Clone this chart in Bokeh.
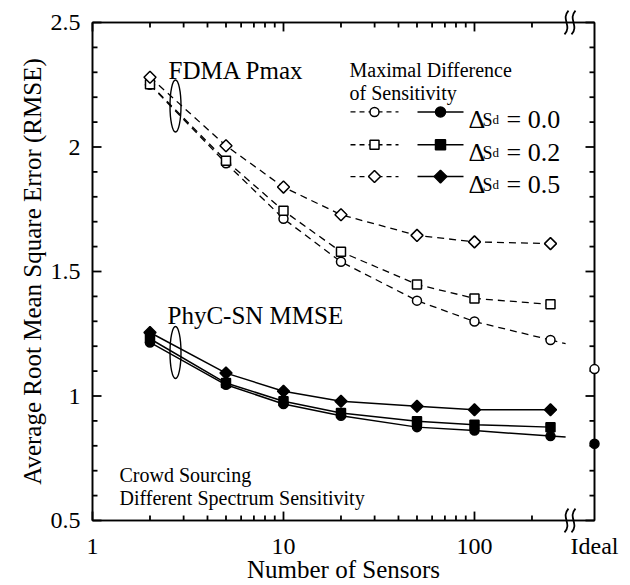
import numpy as np
from bokeh.plotting import figure
from bokeh.models import FixedTicker, LogAxis, LinearAxis, CustomJSTickFormatter, Range1d
from bokeh.core.properties import value
from bokeh.embed import file_html
from bokeh.resources import INLINE

# ---------------- data ----------------
sensors = [2, 5, 10, 20, 50, 100, 250]
fdma_00 = [2.250, 1.935, 1.712, 1.539, 1.383, 1.299, 1.225]
fdma_02 = [2.252, 1.945, 1.744, 1.579, 1.448, 1.392, 1.368]
fdma_05 = [2.280, 2.005, 1.839, 1.728, 1.645, 1.619, 1.612]
phyc_00 = [1.215, 1.045, 0.968, 0.921, 0.875, 0.861, 0.839]
phyc_02 = [1.230, 1.052, 0.979, 0.932, 0.899, 0.885, 0.875]
phyc_05 = [1.255, 1.092, 1.019, 0.979, 0.959, 0.945, 0.945]
tail_x = [250, 300]
fdma_00_tail = [1.225, 1.210]
phyc_00_tail = [0.839, 0.835]
ideal_x = [425]
ideal_fdma = [1.108]
ideal_phyc = [0.808]
delta_labels = ["= 0.0", "= 0.2", "= 0.5"]
x_ticks = [1, 10, 100, 425]
x_minor = [2, 3, 4, 5, 6, 7, 8, 9, 20, 30, 40, 50, 60, 70, 80, 90, 200]
y_ticks = [0.5, 1.0, 1.5, 2.0, 2.5]
y_minor = [0.6, 0.7, 0.8, 0.9, 1.1, 1.2, 1.3, 1.4, 1.6, 1.7, 1.8, 1.9, 2.1, 2.2, 2.3, 2.4]

# ---------------- layout helpers ----------------
X0, X1, Y0, Y1 = 1, 425, 0.5, 2.5
L, R, T, B = 92, 594, 22, 523
FONT = value("Liberation Serif")


def dx(px):
    return 10 ** (np.log10(X0) + (px - L) / (R - L) * (np.log10(X1) - np.log10(X0)))


def dy(py):
    return Y0 + (B - py) / (B - T) * (Y1 - Y0)


p = figure(width=630, height=585, x_axis_type="log",
           x_range=Range1d(X0, X1), y_range=Range1d(Y0, Y1),
           output_backend="svg", toolbar_location=None,
           min_border_left=L, min_border_right=630 - R,
           min_border_top=T, min_border_bottom=585 - B)
p.grid.visible = False
p.outline_line_color = "black"
p.outline_line_width = 1.5

xt = FixedTicker(ticks=x_ticks, minor_ticks=x_minor)
yt = FixedTicker(ticks=y_ticks, minor_ticks=y_minor)


def style_axis(ax, labels=True):
    ax.axis_line_width = 1.6
    ax.major_tick_in = 0
    ax.major_tick_out = 0
    ax.minor_tick_in = 0
    ax.minor_tick_out = 0
    if labels:
        ax.major_label_text_font = "Liberation Serif"
        ax.axis_label_text_font = "Liberation Serif"
        ax.axis_label_text_font_style = "normal"
        ax.major_label_text_color = "black"
        ax.axis_label_text_color = "black"
        ax.major_label_text_font_size = "24px"
        ax.axis_label_text_font_size = "25px"
    else:
        ax.major_label_text_font_size = "1px"
        ax.major_label_text_color = None
        ax.major_label_standoff = 0


xa = p.xaxis[0]
xa.ticker = xt
xa.formatter = CustomJSTickFormatter(code="return tick >= 400 ? 'Ideal' : String(tick);")
style_axis(xa)
xa.axis_label = "Number of Sensors"
xa.major_label_standoff = 12
xa.axis_label_standoff = -6

ya = p.yaxis[0]
ya.ticker = yt
ya.formatter = CustomJSTickFormatter(code="return String(tick);")
style_axis(ya)
ya.axis_label = "Average Root Mean Square Error (RMSE)"
ya.major_label_standoff = 12
ya.axis_label_standoff = 2

top = LogAxis(ticker=xt)
style_axis(top, labels=False)
p.add_layout(top, "above")
right = LinearAxis(ticker=yt)
style_axis(right, labels=False)
p.add_layout(right, "right")

# ---------------- inward ticks, drawn from the tick lists on the top level ----------------
MAJ, MIN = 9, 5
tk = dict(line_color="black", line_width=1.8)
xmaj = [t for t in x_ticks if t < X1]
for ticks, ln in ((xmaj, MAJ), (x_minor, MIN)):
    n = len(ticks)
    r = p.segment(x0=ticks, y0=[Y0] * n, x1=ticks, y1=[dy(B - ln)] * n, **tk)
    r.level = "overlay"
    r = p.segment(x0=ticks, y0=[Y1] * n, x1=ticks, y1=[dy(T + ln)] * n, **tk)
    r.level = "overlay"
for ticks, ln in ((y_ticks, MAJ), (y_minor, MIN)):
    n = len(ticks)
    r = p.segment(x0=[X0] * n, y0=ticks, x1=[dx(L + ln)] * n, y1=ticks, **tk)
    r.level = "overlay"
    r = p.segment(x0=[X1] * n, y0=ticks, x1=[dx(R - ln)] * n, y1=ticks, **tk)
    r.level = "overlay"

# ---------------- series ----------------
DASH = "7 5"
for ys in (fdma_00, fdma_02, fdma_05):
    p.line(sensors, ys, line_color="black", line_width=1.3, line_dash=DASH)
p.line(tail_x, fdma_00_tail, line_color="black", line_width=1.3, line_dash=DASH)
for ys in (phyc_00, phyc_02, phyc_05):
    p.line(sensors, ys, line_color="black", line_width=1.5)
p.line(tail_x, phyc_00_tail, line_color="black", line_width=1.5)

mk = dict(line_color="black", line_width=1.5)
p.scatter(sensors, fdma_00, marker="circle", size=9, fill_color="white", **mk)
p.scatter(sensors, fdma_02, marker="square", size=9, fill_color="white", **mk)
p.scatter(sensors, fdma_05, marker="square", size=8.5, angle=np.pi / 4, fill_color="white", **mk)
p.scatter(sensors, phyc_00, marker="circle", size=9, fill_color="black", **mk)
p.scatter(sensors, phyc_02, marker="square", size=9, fill_color="black", **mk)
p.scatter(sensors, phyc_05, marker="square", size=8.5, angle=np.pi / 4, fill_color="black", **mk)

r1 = p.scatter(ideal_x, ideal_fdma, marker="circle", size=9, fill_color="white", **mk)
r2 = p.scatter(ideal_x, ideal_phyc, marker="circle", size=9, fill_color="black", **mk)
r1.level = "overlay"
r2.level = "overlay"

# ---------------- annotations ----------------
p.ellipse(x=[dx(175), dx(175)], y=[dy(106), dy(354)], width=11, height=52,
          width_units="screen", height_units="screen",
          fill_color=None, line_color="black", line_width=1.4)

p.text(x=[dx(168)], y=[dy(70)], text=["FDMA Pmax"], text_font=FONT,
       text_font_size="25px", text_baseline="alphabetic", text_align="left", text_color="black")
p.text(x=[dx(167)], y=[dy(317)], text=["PhyC-SN MMSE"], text_font=FONT,
       text_font_size="25px", text_baseline="alphabetic", text_align="left", text_color="black")
p.text(x=[dx(349), dx(349)], y=[dy(70), dy(93)], text=["Maximal Difference", "of Sensitivity"],
       text_font=FONT, text_font_size="20px", text_baseline="alphabetic", text_align="left",
       text_color="black")
p.text(x=[dx(119), dx(119)], y=[dy(477), dy(500)],
       text=["Crowd Sourcing", "Different Spectrum Sensitivity"],
       text_font=FONT, text_font_size="20px", text_baseline="alphabetic", text_align="left",
       text_color="black")

# legend
rows_py = [112, 145, 177]
for i, py in enumerate(rows_py):
    yy = dy(py)
    p.line([dx(350), dx(398)], [yy, yy], line_color="black", line_width=1.3, line_dash="5 4")
    p.line([dx(417), dx(463)], [yy, yy], line_color="black", line_width=1.5)
legend_y = [dy(py) for py in rows_py]
p.scatter([dx(374)], [legend_y[0]], marker="circle", size=9, fill_color="white", **mk)
p.scatter([dx(374)], [legend_y[1]], marker="square", size=9, fill_color="white", **mk)
p.scatter([dx(374)], [legend_y[2]], marker="square", size=8.5, angle=np.pi / 4, fill_color="white", **mk)
p.scatter([dx(440)], [legend_y[0]], marker="circle", size=10, fill_color="black", **mk)
p.scatter([dx(440)], [legend_y[1]], marker="square", size=10, fill_color="black", **mk)
p.scatter([dx(440)], [legend_y[2]], marker="square", size=9, angle=np.pi / 4, fill_color="black", **mk)

base_y = [dy(py + 8) for py in rows_py]
tx = [dx(468)] * 3
p.text(x=tx, y=base_y, text=["Δ"] * 3, text_font=FONT, text_font_size="26px",
       text_baseline="alphabetic", text_align="left", text_color="black")
p.text(x=tx, y=base_y, text=["S"] * 3, x_offset=14, text_font=FONT, text_font_size="18px",
       text_baseline="alphabetic", text_align="left", text_color="black")
p.text(x=tx, y=base_y, text=["d"] * 3, x_offset=24, text_font=FONT, text_font_size="13px",
       text_baseline="alphabetic", text_align="left", text_color="black")
p.text(x=tx, y=base_y, text=delta_labels, x_offset=38, text_font=FONT, text_font_size="26px",
       text_baseline="alphabetic", text_align="left", text_color="black")

# axis break marks
bx0, by0, bx1, by1, cx0, cy0, cx1, cy1 = [], [], [], [], [], [], [], []
for axis_py in (T, B):
    for cpx in (566, 573):
        top_py, bot_py = axis_py - 12, axis_py + 12
        bx0.append(dx(cpx + 2)); by0.append(dy(top_py))
        bx1.append(dx(cpx - 2)); by1.append(dy(bot_py))
        cx0.append(dx(cpx - 6)); cy0.append(dy(top_py + 9))
        cx1.append(dx(cpx + 6)); cy1.append(dy(bot_py - 9))
rb = p.bezier(x0=bx0, y0=by0, x1=bx1, y1=by1, cx0=cx0, cy0=cy0, cx1=cx1, cy1=cy1,
              line_color="black", line_width=1.8)
rb.level = "overlay"

open("out.html", "w").write(file_html(p, INLINE))
